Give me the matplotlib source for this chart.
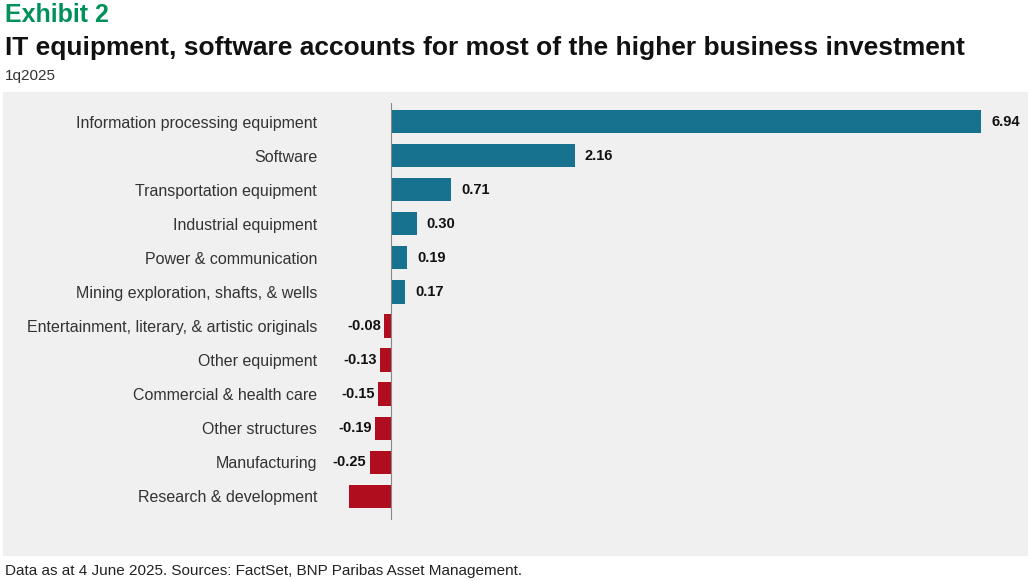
import matplotlib
matplotlib.use("Agg")
import matplotlib.pyplot as plt

plt.rcParams['font.family'] = ['Liberation Sans', 'DejaVu Sans']

categories = ["Information processing equipment", "Software", "Transportation equipment",
              "Industrial equipment", "Power & communication", "Mining exploration, shafts, & wells",
              "Entertainment, literary, & artistic originals", "Other equipment",
              "Commercial & health care", "Other structures", "Manufacturing", "Research & development"]
values = [6.94, 2.16, 0.71, 0.30, 0.19, 0.17, -0.08, -0.13, -0.15, -0.19, -0.25, -0.49]
show_label = [True]*11 + [False]

W, H = 1028, 581
fig = plt.figure(figsize=(W/100, H/100), dpi=100)
fig.patches.append(plt.Rectangle((3/W, 1-555/H), 1025/W, 463/H, transform=fig.transFigure,
                                 color="#f0f0f0", zorder=-10))
ax = fig.add_axes([320/W, 1-520/H, 700/W, 417/H])
ax.set_facecolor("none")
n = len(values)
y = list(range(n))
colors = ["#17728f" if v >= 0 else "#b00d1e" for v in values]
ax.barh(y, values, height=0.68, color=colors, zorder=2)
ax.set_ylim(n - 0.3, -0.55)
ax.set_xlim(-71/85, 629/85)
ax.axvline(0, color="#888888", lw=0.8, zorder=3)
for s in ax.spines.values():
    s.set_visible(False)
ax.set_xticks([])
ax.set_yticks(y)
ax.set_yticklabels(categories, fontsize=11.5, color="#333333")
ax.tick_params(axis="y", length=0, pad=2)
for yi, v, sh in zip(y, values, show_label):
    if not sh:
        continue
    if v >= 0:
        ax.text(v + 0.12, yi, f"{v:.2f}", va="center", ha="left", fontsize=10.5, fontweight="bold", color="#111111")
    else:
        ax.text(v - 0.04, yi, f"{v:.2f}", va="center", ha="right", fontsize=10.5, fontweight="bold", color="#111111")

fig.text(5/W, 1-15/H, "Exhibit 2", fontsize=18, fontweight="bold", color="#00915a", va="center")
fig.text(5/W, 1-48/H, "IT equipment, software accounts for most of the higher business investment",
         fontsize=19, fontweight="bold", color="#111111", va="center")
fig.text(5/W, 1-76/H, "1q2025", fontsize=11, color="#333333", va="center")
fig.text(5/W, 1-571/H, "Data as at 4 June 2025. Sources: FactSet, BNP Paribas Asset Management.",
         fontsize=11, color="#222222", va="center")
fig.savefig("out.png", dpi=100)
